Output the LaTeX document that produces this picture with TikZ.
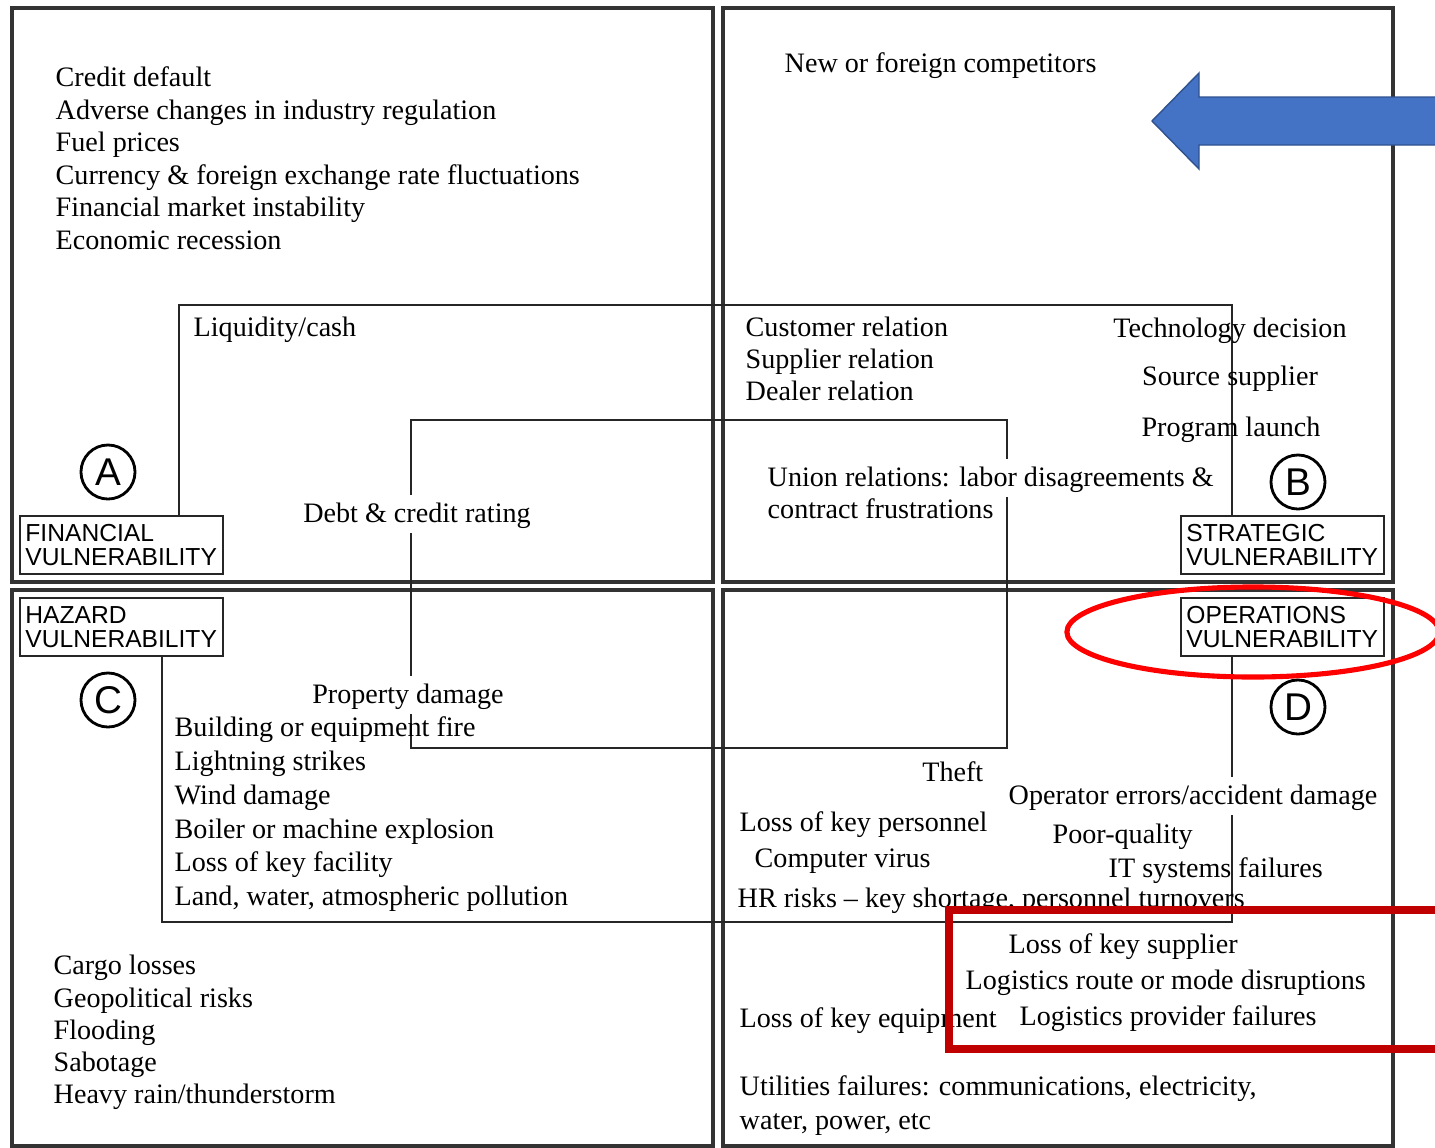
\documentclass[tikz,border=0pt]{standalone}
\usepackage{fontspec}
\setmainfont{Liberation Serif}
\setsansfont{Liberation Sans}
\definecolor{arrowblue}{HTML}{4472C4}
\definecolor{arrowedge}{HTML}{2F528F}
\definecolor{ringred}{HTML}{FF0000}
\definecolor{boxred}{HTML}{C00000}
\tikzset{
  quad/.style={draw=black!80,line width=1pt},
  divider/.style={draw=black!85,line width=.7pt},
  item/.style={inner sep=0pt,anchor=west,text height=6.5pt,text depth=1.5pt,font=\fontsize{8}{9.25}\selectfont},
  wipe/.style={fill=white,inner ysep=1.5pt},
  vuln/.style={draw=black!85,line width=.8pt,fill=white,align=left,text width=1.92cm,minimum height=.58cm,
    inner xsep=.055cm,inner ysep=0pt,font=\sffamily\fontsize{7}{6.8}\selectfont},
  letter/.style={circle,draw,line width=.8pt,minimum size=.54cm,inner sep=0pt,font=\sffamily\fontsize{11}{11}\selectfont}
}
\begin{document}
\begin{tikzpicture}[x=.01cm,y=-.01cm]
\useasboundingbox (0,0) rectangle (1435,1148);
\clip (0,0) rectangle (1435,1148);
% quadrants
\foreach \xa/\ya/\xb/\yb in {12/8/713/582,723/8/1393/582,12/590/713/1146,723/590/1393/1146}
  \draw[quad] (\xa,\ya) rectangle (\xb,\yb);
\node[vuln] (fin) at (121.5,545) {FINANCIAL\\VULNERABILITY};
\node[vuln] (str) at (1282.5,545) {STRATEGIC\\VULNERABILITY};
\node[vuln] (haz) at (121.5,627) {HAZARD\\VULNERABILITY};
\node[vuln] (ops) at (1282.5,627) {OPERATIONS\\VULNERABILITY};
\node[letter] (cA) at (108,472) {A};\node[letter] (cB) at (1298,482) {B};
\node[letter] (cC) at (108,700) {C};\node[letter] (cD) at (1298,707) {D};
% inner frames
\coordinate (tl) at (179,305);\coordinate (tr) at (1232,305);
\coordinate (bl) at (162,922);\coordinate (br) at (1232,922);
\draw[divider] (fin.north -| tl)--(tl)--(tr)--(str.north -| tr);
\draw[divider] (haz.south -| bl)--(bl)--(br)--(ops.south -| br);
\draw[divider] (411,420) rectangle (1007,748);
% financial
\foreach \t [count=\i] in {Credit default,Adverse changes in industry regulation,Fuel prices,
  Currency \& foreign exchange rate fluctuations,Financial market instability,Economic recession}
  \node[item] (fin\i) at (55,{78+32.5*(\i-1)}) {\t};
\node[item] (liq) at (193,328) {Liquidity/cash};
\node[item,wipe,anchor=center] (debt) at (417,514) {Debt \& credit rating};
% strategic
\node[item] (comp) at (784,64) {New or foreign competitors};
\foreach \t [count=\i] in {Customer relation,Supplier relation,Dealer relation}
  \node[item] (rel\i) at (745,{328+32*(\i-1)}) {\t};
\node[item,anchor=center] (tech) at (1230,329) {Technology decision};
\node[item,anchor=center] (src) at (1230,377) {Source supplier};
\node[item,anchor=center] (prog) at (1231,428) {Program launch};
\node[item,wipe] (union1) at (767,478) {Union relations: labor disagreements \&};
\node[item,wipe] (union2) at (767,510) {contract frustrations};
% hazard
\node[item,wipe,anchor=center] (prop) at (408,695) {Property damage};
\foreach \t [count=\i] in {Building or equipment fire,Lightning strikes,Wind damage,
  Boiler or machine explosion,Loss of key facility,{Land, water, atmospheric pollution}}
  \node[item] (haz\i) at (174,{728+33.8*(\i-1)}) {\t};
\foreach \t [count=\i] in {Cargo losses,Geopolitical risks,Flooding,Sabotage,Heavy rain/thunderstorm}
  \node[item] (ext\i) at (53,{966+32.25*(\i-1)}) {\t};
% operations
\node[item,anchor=east] (theft) at (984,773) {Theft};
\node[item,wipe] (oper) at (1008,796) {Operator errors/accident damage};
\node[item] (pers) at (739,823) {Loss of key personnel};
\node[item] (poor) at (1052,835) {Poor-quality};
\node[item] (virus) at (754,859) {Computer virus};
\node[item] (itsys) at (1108,869) {IT systems failures};
\node[item] (hr) at (737,899) {HR risks -- key shortage, personnel turnovers};
\node[item] (ksup) at (1008,945) {Loss of key supplier};
\node[item] (route) at (965,981) {Logistics route or mode disruptions};
\node[item] (equip) at (739,1019) {Loss of key equipment};
\node[item] (prov) at (1019,1017) {Logistics provider failures};
\node[item] (util1) at (739,1087) {Utilities failures: communications, electricity,};
\node[item] (util2) at (739,1121) {water, power, etc};
% marks
\draw[fill=arrowblue,draw=arrowedge,line width=.4pt] (1152,121)--(1199,73)--(1199,97)--(1445,97)
  --(1445,145)--(1199,145)--(1199,169)--cycle;
\draw[ringred,line width=1.45pt] (1253,632) ellipse [x radius=1.86cm,y radius=.45cm];
\draw[boxred,line width=2.3pt] (949,910) rectangle (1500,1049);
\end{tikzpicture}
\end{document}
